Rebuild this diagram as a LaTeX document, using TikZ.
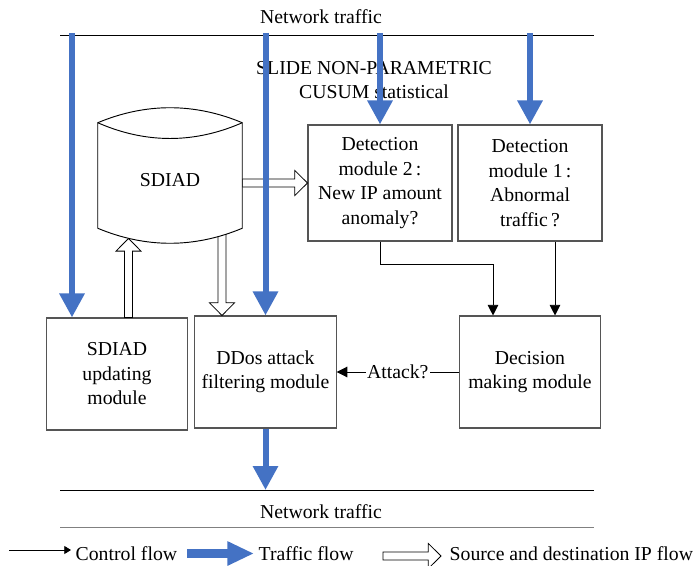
\documentclass[tikz,border=0pt]{standalone}
\usepackage{fontspec}
\setmainfont{Liberation Serif}
\usepackage{tikz}
\usetikzlibrary{arrows.meta,positioning,calc}
\usepackage{xcolor}
\definecolor{trafblue}{RGB}{68,114,196}
\definecolor{boxgray}{RGB}{85,85,85}

% hollow block arrow (source/destination IP flow)
\newcommand{\ipflow}[2]{%
  \coordinate (iph) at ($(#2)!9.5pt!(#1)$);
  \draw[ipline] ($(#1)!3pt!90:(#2)$) -- ($(iph)!3pt!90:(#2)$) -- ($(iph)!9.4pt!90:(#2)$) -- (#2)
    -- ($(iph)!9.4pt!-90:(#2)$) -- ($(iph)!3pt!-90:(#2)$) -- ($(#1)!3pt!-90:(#2)$) -- cycle;
}

\begin{document}
\begin{tikzpicture}[
    x=0.75pt, y=-0.75pt,
    font=\fontsize{14.8}{18.4}\selectfont,
    module/.style={rectangle, draw=boxgray, line width=0.8pt, fill=white, align=center,
                   minimum width=106pt, minimum height=84pt, inner sep=2pt},
    detect/.style={module, minimum width=108pt, minimum height=87pt},
    ctrl/.style={draw=black, line width=0.7pt, -{Triangle[width=8pt,length=8pt]}},
    traffic/.style={draw=trafblue, line width=4.5pt, -{Triangle[width=18pt,length=18pt]}},
    ipline/.style={draw=black, line width=0.6pt, fill=white, line join=miter},
    wire/.style={line width=0.75pt}
]
    \useasboundingbox (0,0) rectangle (698,566);

    % Network traffic lines
    \node (nettop) at (321,17) {Network traffic};
    \draw[wire] (60,36) -- (594,36);
    \draw[wire] (60,490) -- (594,490);
    \node (netbot) at (321,512) {Network traffic};
    \draw[wire, draw=gray] (60,527) -- (594,527);
    \coordinate (netin) at (321,33);
    \coordinate (netout) at (321,490);

    \node[align=center] (cusum) at (374,80) {SLIDE NON-PARAMETRIC\\CUSUM statistical};

    % Modules
    \node[module] (upd) at (117,374) {SDIAD\\updating\\module};
    \node[module] (ddos) at (265.5,372) {DDos attack\\filtering module};
    \node[module] (dec) at (530,372) {Decision\\making module};
    \node[detect] (det2) at (380,183) {Detection\\module 2\,:\\New IP amount\\anomaly?};
    \node[detect] (det1) at (530,183) {Detection\\module 1\,:\\Abnormal\\traffic\,?};
    \node[minimum width=108pt, minimum height=78.75pt, inner sep=0pt] (sdiad) at (170,175.5) {};

    % IP flow
    \coordinate (updup) at ($(upd.north)+(11.5,0)$);
    \coordinate (updtip) at ($(upd.north)+(11.5,-79)$);
    \coordinate (sdout) at ($(sdiad.south)+(52,4)$);
    \coordinate (ddosin) at ($(ddos.north)+(-43.5,0)$);
    \coordinate (sdeast) at (sdiad.east |- det2.west);
    \ipflow{updup}{updtip}
    \ipflow{sdout}{ddosin}
    \ipflow{sdeast}{det2.west}

    % SDIAD store
    \draw[draw=black, line width=0.7pt, fill=white] (sdiad.south west) -- (sdiad.north west)
        .. controls +(48,-20) and +(-48,-20) .. (sdiad.north east)
        -- (sdiad.south east)
        .. controls +(-48,20) and +(48,20) .. (sdiad.south west);
    \draw[line width=0.7pt] (sdiad.north west) .. controls +(48,21) and +(-48,21) .. (sdiad.north east);
    \node (sdlab) at ($(sdiad.center)+(0,5)$) {SDIAD};

    % Control flow
    \coordinate (decin2) at ($(dec.north)+(-37,0)$);
    \coordinate (det1out) at ($(det1.south)+(25,0)$);
    \coordinate (decin1) at ($(dec.north)+(25,0)$);
    \draw[ctrl] (det2.south) -- ++(0,23) -| (decin2);
    \draw[ctrl] (det1out) -- (decin1);
    \draw[ctrl] (dec.west) -- node[fill=white, inner sep=1pt] (atk) {Attack?} (ddos.east);

    % Traffic flow
    \coordinate (updin) at ($(upd.north)+(-45,0)$);
    \draw[traffic] (updin |- netin) -- (updin);
    \draw[traffic] (ddos.north |- netin) -- (ddos.north);
    \draw[traffic] (det2.north |- netin) -- (det2.north);
    \draw[traffic] (det1.north |- netin) -- (det1.north);
    \draw[traffic] (ddos.south) -- (ddos.south |- netout);

    % Legend
    \coordinate (cf1) at (9,550);
    \coordinate (cf2) at (71,550);
    \draw[line width=0.6pt, -{Triangle[width=6pt,length=5pt]}] (cf1) -- (cf2);
    \node[right=0pt of cf2, yshift=-3pt] (cflab) {Control flow};
    \coordinate (tf1) at (187,553.5);
    \coordinate (tf2) at (254,553.5);
    \draw[traffic, line width=6.5pt, -{Triangle[width=17pt,length=20pt]}] (tf1) -- (tf2);
    \node[right=0pt of tf2] (tflab) {Traffic flow};
    \coordinate (ip1) at (383,556);
    \coordinate (ip2) at (441,556);
    \ipflow{ip1}{ip2}
    \node[right=3pt of ip2, yshift=2pt] (iplab) {Source and destination IP flow};
\end{tikzpicture}
\end{document}
